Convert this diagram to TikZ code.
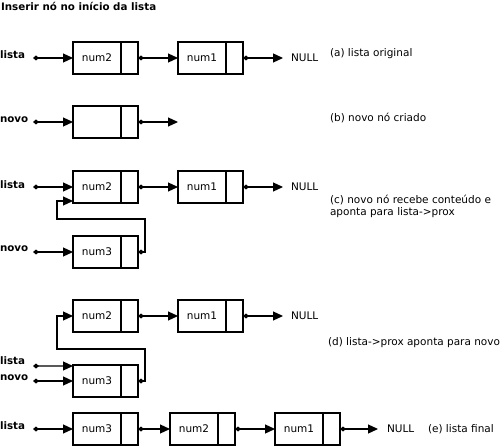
\documentclass[tikz,border=0pt]{standalone}
\usepackage{fontspec}
\setmainfont{DejaVu Sans}
\usetikzlibrary{arrows.meta,positioning}

\begin{document}
\begin{tikzpicture}[x=1bp,y=1bp]

   \useasboundingbox (0,0) rectangle (500,-447);
   \tikzstyle{every node}+=[inner sep=0pt, outer sep=0pt, font=\fontsize{10.5bp}{12bp}\selectfont]
   \tikzstyle{dado}=[draw, line width=1.3bp, minimum width=48bp, minimum height=32bp]
   \tikzstyle{prox}=[draw, line width=1.3bp, minimum width=17bp, minimum height=32bp, anchor=west]
   \tikzstyle{elo}=[line width=1.2bp, {Diamond[length=6bp,width=5bp]}-{Triangle[length=10bp,width=9bp]}]
   \tikzstyle{rotulo}=[font=\fontsize{10.3bp}{12bp}\selectfont\bfseries, anchor=west]
   \tikzstyle{texto}=[anchor=west]

   \node[rotulo] (titulo) at (1,-6) {Inserir nó no início da lista};

   % (a)
   \node[rotulo] (listaA) at (0,-55) {lista};
   \coordinate (pa) at (33,-58);
   \node[dado] (a2) at (97,-58) {num2};
   \node[prox] (a2p) at (a2.east) {};
   \node[dado, right=40bp of a2p] (a1) {num1};
   \node[prox] (a1p) at (a1.east) {};
   \node[texto, right=48bp of a1p] (nullA) {NULL};
   \node[texto] (legA) at (330,-54) {(a) lista original};
   \draw[elo] (pa) -- (a2.west);
   \draw[elo] (a2p.east) -- (a1.west);
   \draw[elo] (a1p.east) -- ([xshift=-8bp]nullA.west);

   % (b)
   \node[rotulo] (novoB) at (0,-120) {novo};
   \coordinate (pb) at (33,-122);
   \node[dado] (b0) at (97,-122) {};
   \node[prox] (b0p) at (b0.east) {};
   \coordinate (bfim) at (178,-122);
   \node[texto] (legB) at (330,-118) {(b) novo nó criado};
   \draw[elo] (pb) -- (b0.west);
   \draw[elo] (b0p.east) -- (bfim);

   % (c)
   \node[rotulo] (listaC) at (0,-185) {lista};
   \coordinate (pcl) at (33,-187);
   \node[dado] (c2) at (97,-187) {num2};
   \node[prox] (c2p) at (c2.east) {};
   \node[dado, right=40bp of c2p] (c1) {num1};
   \node[prox] (c1p) at (c1.east) {};
   \node[texto, right=48bp of c1p] (nullC) {NULL};
   \node[rotulo] (novoC) at (0,-249) {novo};
   \coordinate (pcn) at (33,-252);
   \node[dado] (c3) at (97,-252) {num3};
   \node[prox] (c3p) at (c3.east) {};
   \coordinate (cvolta) at (57,-219);
   \node[texto, align=left] (legC) at (330,-206) {(c) novo nó recebe conteúdo e\\aponta para lista->prox};
   \draw[elo] (pcl) -- (c2.west);
   \draw[elo] (c2p.east) -- (c1.west);
   \draw[elo] (c1p.east) -- ([xshift=-8bp]nullC.west);
   \draw[elo] (pcn) -- (c3.west);
   \draw[elo] (c3p.east) -- ++(7,0) |- (cvolta) |- ([yshift=2bp]c2.south west);

   % (d)
   \node[dado] (d2) at (97,-316) {num2};
   \node[prox] (d2p) at (d2.east) {};
   \node[dado, right=40bp of d2p] (d1) {num1};
   \node[prox] (d1p) at (d1.east) {};
   \node[texto, right=48bp of d1p] (nullD) {NULL};
   \node[rotulo] (listaD) at (0,-361) {lista};
   \node[rotulo] (novoD) at (0,-378) {novo};
   \coordinate (pdl) at (33,-366);
   \coordinate (pdn) at (33,-381);
   \node[dado] (d3) at (97,-381) {num3};
   \node[prox] (d3p) at (d3.east) {};
   \coordinate (dvolta) at (57,-349);
   \node[texto] (legD) at (328,-343) {(d) lista->prox aponta para novo};
   \draw[elo] (d2p.east) -- (d1.west);
   \draw[elo] (d1p.east) -- ([xshift=-8bp]nullD.west);
   \draw[elo] (pdl) -- ([yshift=-1bp]d3.north west);
   \draw[elo] (pdn) -- (d3.west);
   \draw[elo] (d3p.east) -- ++(7,0) |- (dvolta) |- (d2.west);

   % (e)
   \node[rotulo] (listaE) at (0,-426) {lista};
   \coordinate (pe) at (33,-429);
   \node[dado] (e3) at (97,-429) {num3};
   \node[prox] (e3p) at (e3.east) {};
   \node[dado, right=32bp of e3p] (e2) {num2};
   \node[prox] (e2p) at (e2.east) {};
   \node[dado, right=40bp of e2p] (e1) {num1};
   \node[prox] (e1p) at (e1.east) {};
   \node[texto, right=47bp of e1p] (nullE) {NULL};
   \node[texto] (legE) at (428,-429) {(e) lista final};
   \draw[elo] (pe) -- (e3.west);
   \draw[elo] (e3p.east) -- (e2.west);
   \draw[elo] (e2p.east) -- (e1.west);
   \draw[elo] (e1p.east) -- ([xshift=-9bp]nullE.west);

\end{tikzpicture}
\end{document}
